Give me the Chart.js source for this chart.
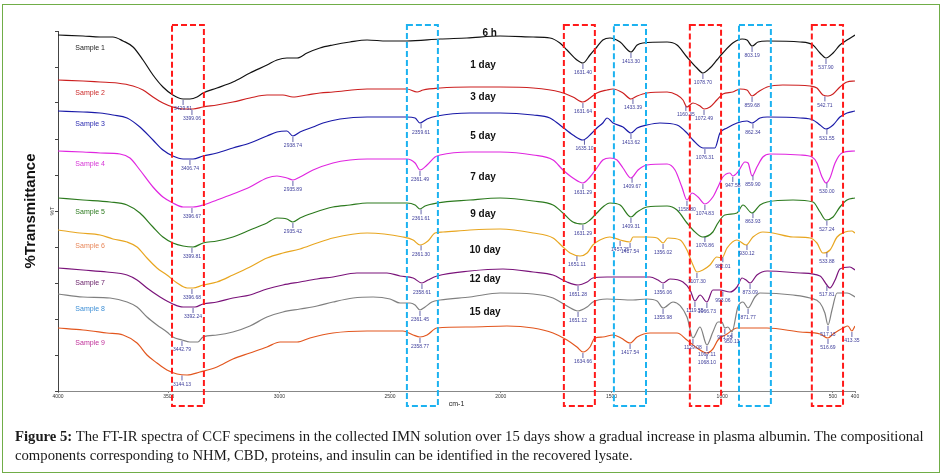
<!DOCTYPE html>
<html>
<head>
<meta charset="utf-8">
<script src="https://cdn.jsdelivr.net/npm/chart.js@4.4.1/dist/chart.umd.min.js"></script>
<style>
  body { margin: 0; background: #fff; }
  #wrap { position: relative; width: 944px; height: 476px; overflow: hidden; background: #fff; }
  #ftir { position: absolute; left: 0; top: 0; }
  #frame { position: absolute; left: 2px; top: 4px; width: 936px; height: 467px; border: 1.5px solid #70ad47; }
  #caption { position: absolute; left: 15px; top: 427px; font: 14.7px "Liberation Serif", serif; line-height: 19px; color: #1a1a1a; white-space: nowrap; }
</style>
</head>
<body>
<div id="wrap">
  <canvas id="ftir" width="944" height="476"></canvas>
  <div id="frame"></div>
  <div id="caption"><b>Figure 5:</b> The FT-IR spectra of CCF specimens in the collected IMN solution over 15 days show a gradual increase in plasma albumin. The compositional<br>components corresponding to NHM, CBD, proteins, and insulin can be identified in the recovered lysate.</div>
</div>
<script>
// wavenumber ticks (cm-1), axis runs high -> low
const xTicks = [4000, 3500, 3000, 2500, 2000, 1500, 1000, 500, 400];

const sampleNames = ['Sample 1', 'Sample 2', 'Sample 3', 'Sample 4', 'Sample 5', 'Sample 6', 'Sample 7', 'Sample 8', 'Sample 9'];
const dayNames = ['6 h', '1 day', '3 day', '5 day', '7 day', '9 day', '10 day', '12 day', '15 day'];
const dayWavenumbers = [2050, 2080, 2080, 2080, 2080, 2080, 2071, 2071, 2071];
const dayLevels = [358, 326, 294, 255, 214, 177, 141, 112, 79];

// spectra: [wavenumber, %T (stacked, arbitrary offset)]
const sample1 = [[4000,356],[3887,355],[3810,354],[3752,354],[3706,350],[3661,344],[3616,331],[3571,316],[3526,304],[3481,296],[3435,292],[3404,292],[3372,294],[3345,298],[3282,303],[3210,309],[3133,318],[3056,326],[3011,331],[2966,333],[2920,333],[2875,338],[2817,343],[2758,346],[2681,349],[2604,351],[2514,350],[2424,350],[2274,352],[2153,353],[2003,355],[1854,354],[1778,353],[1733,348],[1701,341],[1656,331],[1629,328],[1597,336],[1566,344],[1539,351],[1507,353],[1461,349],[1412,339],[1384,346],[1358,348],[1249,349],[1204,346],[1159,334],[1114,323],[1087,318],[1055,323],[1024,331],[997,338],[952,348],[910,352],[888,351],[865,345],[838,349],[797,350],[648,349],[590,346],[558,338],[531,333],[499,338],[468,346],[436,351],[400,356]];
const sample2 = [[4000,311],[3887,310],[3810,309],[3733,308],[3661,305],[3616,301],[3571,294],[3526,288],[3481,284],[3435,282],[3390,282],[3345,284],[3282,286],[3210,289],[3133,293],[3056,296],[2984,296],[2939,294],[2875,296],[2817,298],[2758,299],[2604,302],[2424,302],[2378,299],[2351,301],[2274,303],[2139,304],[2003,304],[1854,303],[1733,299],[1674,294],[1629,289],[1597,293],[1566,298],[1520,301],[1493,302],[1448,298],[1412,292],[1384,295],[1340,298],[1249,299],[1204,296],[1177,291],[1159,284],[1132,288],[1100,285],[1082,282],[1055,284],[1024,291],[997,297],[952,299],[919,302],[888,301],[865,295],[838,299],[797,304],[726,306],[603,305],[572,303],[545,296],[522,295],[499,297],[468,304],[436,309],[400,310]];
const sample3 = [[4000,280],[3887,279],[3810,278],[3752,276],[3688,273],[3630,264],[3571,251],[3526,241],[3481,235],[3435,232],[3390,232],[3345,235],[3282,238],[3210,243],[3133,248],[3056,255],[3011,259],[2966,260],[2939,255],[2907,259],[2848,264],[2803,268],[2726,272],[2604,274],[2424,274],[2387,273],[2365,268],[2333,272],[2288,275],[2139,278],[2003,278],[1854,276],[1778,273],[1733,266],[1674,256],[1629,251],[1588,258],[1566,263],[1539,268],[1520,273],[1493,268],[1448,264],[1412,258],[1384,263],[1340,266],[1281,268],[1204,266],[1159,258],[1132,251],[1087,243],[1033,243],[1010,258],[978,263],[933,268],[888,270],[865,268],[829,273],[797,274],[648,273],[590,271],[558,266],[531,262],[499,266],[468,274],[436,278],[400,280]];
const sample4 = [[4000,240],[3887,239],[3810,238],[3720,237],[3675,233],[3630,221],[3571,204],[3526,194],[3481,188],[3435,184],[3390,184],[3345,186],[3282,191],[3210,197],[3133,204],[3056,213],[3011,215],[2966,213],[2939,211],[2907,214],[2848,221],[2758,228],[2681,231],[2604,232],[2424,232],[2387,228],[2365,221],[2333,226],[2297,234],[2274,236],[2139,239],[2003,239],[1854,236],[1764,231],[1719,221],[1674,213],[1629,208],[1597,214],[1566,223],[1539,231],[1507,233],[1475,231],[1448,223],[1412,213],[1380,221],[1340,226],[1249,227],[1213,221],[1182,204],[1159,191],[1136,198],[1109,194],[1078,187],[1042,194],[1019,204],[997,214],[965,218],[952,215],[929,219],[897,229],[883,228],[865,215],[843,224],[816,234],[784,237],[648,236],[594,234],[572,228],[549,214],[531,208],[513,213],[490,228],[459,238],[400,240]];
const sample5 = [[4000,193],[3887,191],[3765,189],[3688,186],[3630,178],[3571,164],[3526,154],[3481,148],[3435,145],[3390,144],[3345,148],[3282,150],[3210,154],[3133,161],[3056,168],[3011,173],[2966,172],[2939,169],[2907,173],[2848,178],[2758,184],[2681,186],[2604,188],[2424,188],[2387,186],[2365,182],[2342,185],[2288,188],[2139,191],[2003,193],[1854,190],[1764,186],[1719,178],[1674,169],[1629,167],[1597,171],[1566,178],[1539,184],[1507,188],[1461,186],[1412,174],[1384,179],[1340,184],[1249,185],[1204,181],[1159,168],[1132,161],[1087,154],[1042,159],[1019,168],[988,176],[933,178],[906,186],[865,178],[829,186],[797,189],[680,191],[590,189],[558,179],[531,171],[499,174],[468,184],[436,191],[400,193]];
const sample6 = [[4000,161],[3901,158],[3810,156],[3752,152],[3688,149],[3643,144],[3598,133],[3553,123],[3508,116],[3462,108],[3417,103],[3390,103],[3345,106],[3282,109],[3210,116],[3133,124],[3056,133],[2984,138],[2907,142],[2830,148],[2758,153],[2604,158],[2442,154],[2396,151],[2365,146],[2329,150],[2297,158],[2261,159],[2139,161],[2003,162],[1854,158],[1764,153],[1719,144],[1687,138],[1642,135],[1610,138],[1584,146],[1552,151],[1507,154],[1461,151],[1416,149],[1403,154],[1340,154],[1294,153],[1267,148],[1245,153],[1190,151],[1159,141],[1132,126],[1114,119],[1087,121],[1055,126],[1024,134],[1001,133],[978,143],[933,151],[892,146],[861,154],[816,159],[771,158],[680,154],[603,153],[572,148],[545,138],[513,141],[481,154],[445,159],[414,160],[400,158]];
const sample7 = [[4000,123],[3887,121],[3779,119],[3688,116],[3643,111],[3598,103],[3539,94],[3481,87],[3435,84],[3381,84],[3345,87],[3282,89],[3210,93],[3133,96],[3056,102],[2984,106],[2907,109],[2830,112],[2758,114],[2650,118],[2514,118],[2455,115],[2396,113],[2356,108],[2329,111],[2288,115],[2139,120],[1990,122],[1854,119],[1764,116],[1701,109],[1651,106],[1610,109],[1584,113],[1520,114],[1403,114],[1326,114],[1290,111],[1267,108],[1236,112],[1177,109],[1145,101],[1123,90],[1100,96],[1069,89],[1042,101],[1010,101],[965,99],[933,104],[910,113],[892,111],[874,108],[843,116],[797,120],[648,118],[558,115],[527,106],[513,103],[490,111],[468,122],[423,124],[400,121]];
const sample8 = [[4000,97],[3887,94],[3765,93],[3688,89],[3643,84],[3598,74],[3553,66],[3508,59],[3481,54],[3440,51],[3404,49],[3368,49],[3345,54],[3282,56],[3210,59],[3133,65],[3056,74],[2984,79],[2907,82],[2830,85],[2758,89],[2667,93],[2577,94],[2500,92],[2455,88],[2410,88],[2387,86],[2365,81],[2342,84],[2311,89],[2274,91],[2139,94],[2003,98],[1854,97],[1764,93],[1701,85],[1651,80],[1610,84],[1584,89],[1520,92],[1403,91],[1340,92],[1294,90],[1267,83],[1222,89],[1159,74],[1132,53],[1100,64],[1069,46],[1042,59],[1019,69],[1001,69],[988,63],[974,64],[956,59],[929,84],[906,89],[883,83],[852,94],[829,98],[680,96],[603,93],[558,88],[536,78],[522,66],[504,81],[481,98],[436,98],[400,94]];
const sample9 = [[4000,63],[3887,61],[3779,58],[3706,56],[3643,48],[3598,36],[3553,28],[3508,21],[3462,17],[3417,16],[3359,19],[3282,24],[3210,32],[3133,38],[3056,44],[2997,49],[2920,49],[2862,53],[2758,58],[2604,60],[2442,60],[2396,56],[2365,54],[2333,56],[2288,63],[2139,64],[1972,65],[1854,63],[1764,58],[1701,51],[1656,44],[1629,39],[1597,44],[1575,53],[1539,54],[1493,56],[1457,53],[1416,48],[1384,54],[1326,58],[1204,58],[1159,51],[1114,43],[1069,38],[1042,42],[1019,51],[978,57],[933,63],[797,63],[648,59],[558,57],[522,53],[499,57],[454,63],[432,65],[414,60],[400,65]];
const spectra = [sample1, sample2, sample3, sample4, sample5, sample6, sample7, sample8, sample9];

// peak annotations: [sample index, wavenumber, label]
const peaks = [
  [0,3435,'3429.51'],[0,1629,'1631.40'],[0,1412,'1413.30'],[0,1087,'1078.70'],[0,865,'803.19'],[0,531,'537.90'],
  [1,3395,'3399.06'],[1,1629,'1631.64'],[1,1403,'1433.39'],[1,1164,'1160.35'],[1,1082,'1072.49'],[1,865,'859.68'],[1,536,'542.71'],
  [2,3404,'3406.74'],[2,2939,'2938.74'],[2,2360,'2359.61'],[2,1622,'1635.10'],[2,1412,'1413.62'],[2,1078,'1076.31'],[2,861,'862.34'],[2,527,'531.55'],
  [3,3395,'3396.67'],[3,2939,'2935.89'],[3,2365,'2361.49'],[3,1629,'1631.29'],[3,1407,'1409.67'],[3,1159,'1158.80'],[3,1078,'1074.83'],[3,952,'947.58'],[3,861,'859.90'],[3,527,'530.00'],
  [4,3395,'3399.81'],[4,2939,'2935.42'],[4,2360,'2361.61'],[4,1629,'1631.29'],[4,1412,'1409.31'],[4,1078,'1076.86'],[4,861,'863.93'],[4,527,'527.24'],
  [5,3395,'3396.68'],[5,2360,'2361.30'],[5,1656,'1651.11'],[5,1461,'1457.25'],[5,1416,'1417.54'],[5,1267,'1356.02'],[5,1114,'1107.30'],[5,997,'982.01'],[5,888,'930.12'],[5,527,'533.88'],
  [6,3390,'3392.24'],[6,2356,'2358.61'],[6,1651,'1651.28'],[6,1267,'1356.06'],[6,1123,'1119.55'],[6,1069,'1066.73'],[6,997,'993.06'],[6,874,'873.09'],[6,527,'517.81'],
  [7,3440,'3442.79'],[7,2365,'2361.45'],[7,1651,'1651.12'],[7,1267,'1355.98'],[7,1132,'1129.08'],[7,1069,'1067.11'],[7,988,'971.55'],[7,956,'950.13'],[7,883,'871.77'],[7,522,'517.13'],
  [8,3440,'3144.13'],[8,2365,'2358.77'],[8,1629,'1634.66'],[8,1416,'1417.54'],[8,1069,'1068.10'],[8,522,'516.69'],[8,414,'413.35']
];

// highlighted bands: [high cm-1, low cm-1, kind]
const bands = [[3485,3341,'r'],[2424,2284,'b'],[1715,1575,'r'],[1489,1344,'b'],[1146,1005,'r'],[924,780,'b'],[595,454,'r']];
const bandTop = 366, bandBottom = -15;

const lineColors = ['#111111', '#cc1f1f', '#1a1aa8', '#e026e0', '#2c7a1e', '#e8a620', '#7a137a', '#808080', '#e2561e'];
const nameColors = ['#222222', '#cc2a2a', '#2a2ab0', '#d633d6', '#2c7a1e', '#e8875a', '#6a226a', '#3d8fd6', '#c0309a'];

function valueAt(points, wn) {
  for (let i = 0; i < points.length - 1; i++) {
    const [x0, y0] = points[i], [x1, y1] = points[i + 1];
    if (wn <= x0 && wn >= x1) return y0 + (y1 - y0) * (x0 - wn) / (x0 - x1);
  }
  return points[points.length - 1][1];
}

const annotate = {
  id: 'annotate',
  afterDatasetsDraw(chart) {
    const { ctx, scales: { x, y } } = chart;
    ctx.save();

    // dashed bands
    ctx.lineWidth = 2;
    ctx.setLineDash([6, 3]);
    bands.forEach(([hi, lo, kind]) => {
      ctx.strokeStyle = kind === 'r' ? '#ff1a1a' : '#1cb2f0';
      const x0 = x.getPixelForValue(hi), x1 = x.getPixelForValue(lo);
      const y0 = y.getPixelForValue(bandTop), y1 = y.getPixelForValue(bandBottom);
      ctx.strokeRect(x0, y0, x1 - x0, y1 - y0);
    });
    ctx.setLineDash([]);

    // peak markers
    ctx.font = '5px "Liberation Sans", Arial';
    ctx.textAlign = 'center';
    ctx.textBaseline = 'middle';
    ctx.lineWidth = 0.8;
    peaks.forEach(([s, wn, text]) => {
      const px = x.getPixelForValue(wn);
      const py = y.getPixelForValue(valueAt(spectra[s], wn));
      ctx.strokeStyle = '#3c3c96';
      ctx.beginPath();
      ctx.moveTo(px, py + 1);
      ctx.lineTo(px, py + 6);
      ctx.stroke();
      ctx.fillStyle = '#3c3c9a';
      ctx.fillText(text, px, py + 10);
    });

    // sample names
    ctx.font = '7px "Liberation Sans", Arial';
    sampleNames.forEach((name, i) => {
      const py = y.getPixelForValue(valueAt(spectra[i], 3855));
      ctx.fillStyle = nameColors[i];
      ctx.fillText(name, x.getPixelForValue(3855), py + 12);
    });

    // days
    ctx.font = 'bold 10px "Liberation Sans", Arial';
    ctx.fillStyle = '#111';
    dayNames.forEach((d, i) => {
      ctx.fillText(d, x.getPixelForValue(dayWavenumbers[i]), y.getPixelForValue(dayLevels[i]));
    });

    // small %T tag on the axis
    ctx.font = '6px "Liberation Sans", Arial';
    ctx.translate(x.left - 6, (y.top + y.bottom) / 2);
    ctx.rotate(-Math.PI / 2);
    ctx.fillStyle = '#333';
    ctx.fillText('%T', 0, 0);
    ctx.restore();
  }
};

new Chart(document.getElementById('ftir'), {
  type: 'line',
  data: {
    datasets: spectra.map((pts, i) => ({
      label: sampleNames[i],
      data: pts.map(([wn, t]) => ({ x: wn, y: t })),
      borderColor: lineColors[i],
      borderWidth: 1.2,
      pointRadius: 0,
      cubicInterpolationMode: 'monotone',
      fill: false
    }))
  },
  options: {
    responsive: false,
    animation: false,
    devicePixelRatio: 1,
    layout: { padding: { top: 31, right: 89, bottom: 67, left: 0 } },
    plugins: { legend: { display: false }, tooltip: { enabled: false } },
    scales: {
      x: {
        type: 'linear',
        reverse: true,
        min: 400,
        max: 4000,
        afterBuildTicks: s => { s.ticks = xTicks.map(v => ({ value: v })); },
        afterFit: s => { s.height = 18; },
        grid: { drawOnChartArea: false, drawTicks: true, tickLength: 2, color: '#888' },
        border: { color: '#888' },
        ticks: { autoSkip: false, maxRotation: 0, padding: 1, color: '#333', font: { size: 5, family: '"Liberation Sans", Arial' }, callback: v => String(v) },
        title: { display: true, text: 'cm-1', color: '#222', font: { size: 7, family: '"Liberation Sans", Arial' }, padding: { top: 0, bottom: 1 } }
      },
      y: {
        min: 0,
        max: 360,
        afterFit: s => { s.width = 58; },
        ticks: { display: false, stepSize: 36 },
        grid: { drawOnChartArea: false, drawTicks: true, tickLength: 3, color: '#444' },
        border: { color: '#444' },
        title: { display: true, text: '%Transmittance', color: '#111', font: { size: 15, weight: 'bold', family: '"Liberation Sans", Arial' }, padding: { top: 22 } }
      }
    }
  },
  plugins: [annotate]
});
</script>
</body>
</html>
